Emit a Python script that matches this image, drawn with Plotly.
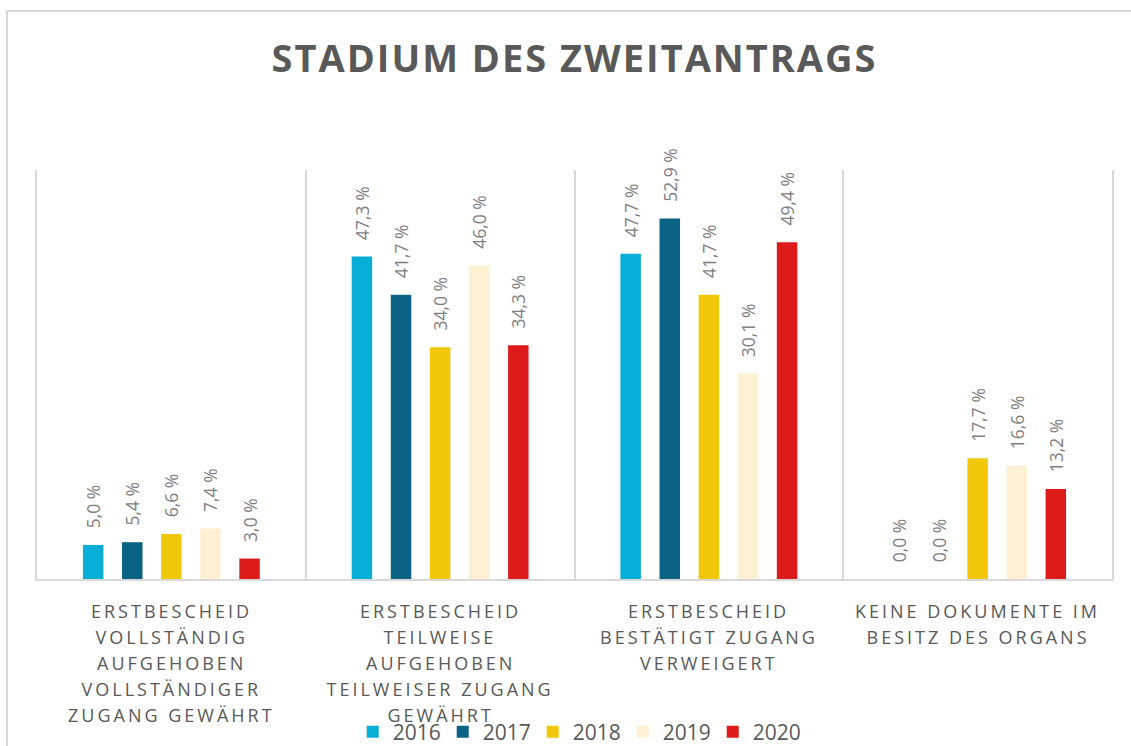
import plotly.graph_objects as go

# ---- data ----
category_lines = [
    ["ERSTBESCHEID", "VOLLSTÄNDIG", "AUFGEHOBEN", "VOLLSTÄNDIGER", "ZUGANG GEWÄHRT"],
    ["ERSTBESCHEID", "TEILWEISE", "AUFGEHOBEN", "TEILWEISER ZUGANG", "GEWÄHRT"],
    ["ERSTBESCHEID", "BESTÄTIGT ZUGANG", "VERWEIGERT"],
    ["KEINE DOKUMENTE IM", "BESITZ DES ORGANS"],
]
categories = [" ".join(lines) for lines in category_lines]
years = ["2016", "2017", "2018", "2019", "2020"]
values_2016 = [5.0, 47.3, 47.7, 0.0]
values_2017 = [5.4, 41.7, 52.9, 0.0]
values_2018 = [6.6, 34.0, 41.7, 17.7]
values_2019 = [7.4, 46.0, 30.1, 16.6]
values_2020 = [3.0, 34.3, 49.4, 13.2]
series = [values_2016, values_2017, values_2018, values_2019, values_2020]
colors = ["#07AED5", "#0B6486", "#F1C70A", "#FEF0D2", "#DD1B1B"]
title_text = "STADIUM DES ZWEITANTRAGS"

FONT = "Open Sans"
GRAY = "#595959"
LINE = "#d9d9d9"

fig = go.Figure()
for name, vals, col in zip(years, series, colors):
    fig.add_trace(go.Bar(
        name=name, x=categories, y=vals,
        marker=dict(color=col, line=dict(width=0)),
        texttemplate="\u00a0\u00a0\u00a0%{y:.1f} %",
        textposition="outside", textangle=-90,
        constraintext="none", cliponaxis=False,
        textfont=dict(family=FONT, size=17.5, color="#7f7f7f"),
        hoverinfo="skip",
    ))

annotations = []
for cat, lines in zip(categories, category_lines):
    for i, ln in enumerate(lines):
        annotations.append(dict(
            x=cat, xref="x", y=0, yref="paper", yanchor="top",
            yshift=-18 - 26 * i, text=ln, showarrow=False,
            font=dict(family=FONT, size=18, color=GRAY),
        ))

fig.update_layout(
    width=1131, height=746,
    margin=dict(l=37, r=19, t=170, b=167, autoexpand=False),
    paper_bgcolor="white", plot_bgcolor="white",
    separators=",.",
    barmode="group", bargap=0.2726, bargroupgap=0.476,
    title=dict(text=title_text, x=0.508, xref="container", xanchor="center",
               y=1 - 59 / 746, yref="container", yanchor="middle",
               font=dict(family=FONT, size=38, color=GRAY, weight="bold")),
    xaxis=dict(showticklabels=False, ticks="", tickson="boundaries",
               showgrid=True, gridcolor=LINE, gridwidth=2,
               showline=True, linecolor=LINE, linewidth=2, zeroline=False),
    yaxis=dict(range=[0, 60], showticklabels=False, ticks="", showgrid=False,
               zeroline=False, showline=True, mirror=True,
               linecolor=LINE, linewidth=2),
    legend=dict(orientation="h", x=0.503, xanchor="center",
                y=(579 - 732) / 409, yanchor="middle",
                font=dict(family=FONT, size=21, color=GRAY),
                entrywidth=45, entrywidthmode="pixels", itemwidth=30,
                bgcolor="rgba(0,0,0,0)"),
    annotations=annotations,
    shapes=[dict(type="rect", xref="paper", yref="paper",
                 x0=(7 - 37) / 1075, x1=(1140 - 37) / 1075,
                 y0=-0.5, y1=(579 - 11) / 409,
                 line=dict(color=LINE, width=2), fillcolor="rgba(0,0,0,0)",
                 layer="below")],
    showlegend=True,
)

post = ("document.body.style.margin='0';"
        "var s=document.createElement('style');"
        "s.textContent='.annotation-text{letter-spacing:3px}.gtitle{letter-spacing:2px}';"
        "document.head.appendChild(s);")
fig.write_html("out.html", post_script=post, config={"displayModeBar": False})
